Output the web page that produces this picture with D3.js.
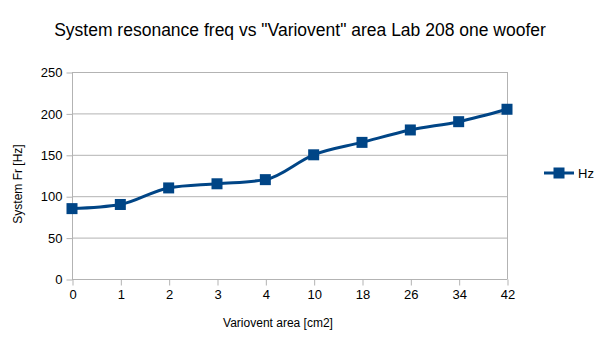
<!DOCTYPE html>
<html><head><meta charset="utf-8">
<script src="https://cdn.jsdelivr.net/npm/d3@7"></script>
<style>body{margin:0;background:#fff}svg{display:block}text{font-family:"Liberation Sans",Arial,sans-serif}</style>
</head><body>
<script>
const categories = ["0","1","2","3","4","10","18","26","34","42"];
const values = [85, 90, 110, 115, 120, 150, 165, 180, 190, 205];
const yTicks = [0, 50, 100, 150, 200, 250];
const seriesName = "Hz";
const title = "System resonance freq vs \"Variovent\" area Lab 208 one woofer";
const xTitle = "Variovent area [cm2]";
const yTitle = "System Fr [Hz]";

const W = 601, H = 338;
const svg = d3.select("body").append("svg").attr("width", W).attr("height", H);
const pL = 72, pR = 507, pT = 72, pB = 279;
const x = d3.scalePoint().domain(categories).range([pL, pR]).padding(0);
const y = d3.scaleLinear().domain([0, 250]).range([pB, pT]);
const grid = "#b3b3b3", color = "#004586";

// horizontal gridlines
svg.append("g").selectAll("line").data(yTicks).join("line")
  .attr("x1", pL).attr("x2", pR)
  .attr("y1", d => y(d) + 0.5).attr("y2", d => y(d) + 0.5)
  .attr("stroke", grid).attr("stroke-width", 1);
// right border
svg.append("line").attr("x1", pR + 0.5).attr("x2", pR + 0.5).attr("y1", pT).attr("y2", pB)
  .attr("stroke", grid);

// y axis
const ya = svg.append("g").attr("transform", `translate(${pL + 0.5},0.5)`)
  .call(d3.axisLeft(y).tickValues(yTicks).tickSize(6).tickPadding(4));
ya.select(".domain").attr("stroke", grid).attr("d", `M0,${pT}V${pB}`);
ya.selectAll(".tick line").attr("stroke", grid);
ya.selectAll("text").attr("font-size", 13).attr("fill", "#000").attr("font-family", "Liberation Sans, Arial, sans-serif");

// x axis
const xa = svg.append("g").attr("transform", `translate(0.5,${pB + 0.5})`)
  .call(d3.axisBottom(x).tickSize(6).tickPadding(4));
xa.select(".domain").attr("stroke", grid).attr("d", `M${pL},0H${pR}`);
xa.selectAll(".tick line").attr("stroke", grid);
xa.selectAll("text").attr("font-size", 13).attr("fill", "#000").attr("font-family", "Liberation Sans, Arial, sans-serif");

// line
const line = d3.line().x((d, i) => x(categories[i])).y(d => y(d)).curve(d3.curveMonotoneX);
svg.append("path").datum(values).attr("d", line).attr("fill", "none")
  .attr("stroke", color).attr("stroke-width", 3);
const ms = 11;
svg.append("g").selectAll("rect").data(values).join("rect")
  .attr("x", (d, i) => x(categories[i]) - ms / 2).attr("y", d => y(d) - ms / 2)
  .attr("width", ms).attr("height", ms).attr("fill", color);

// titles
svg.append("text").attr("x", 300).attr("y", 36).attr("text-anchor", "middle")
  .attr("font-size", 17.5).text(title);
svg.append("text").attr("x", 278).attr("y", 327).attr("text-anchor", "middle")
  .attr("font-size", 12).text(xTitle);
svg.append("text").attr("transform", "translate(22,184) rotate(-90)").attr("text-anchor", "middle")
  .attr("font-size", 12).text(yTitle);

// legend
const ly = 173;
svg.append("line").attr("x1", 544).attr("x2", 574).attr("y1", ly).attr("y2", ly)
  .attr("stroke", color).attr("stroke-width", 3);
svg.append("rect").attr("x", 559 - ms / 2).attr("y", ly - ms / 2).attr("width", ms).attr("height", ms).attr("fill", color);
svg.append("text").attr("x", 578).attr("y", ly + 5).attr("font-size", 13).text(seriesName);
</script>
</body></html>
